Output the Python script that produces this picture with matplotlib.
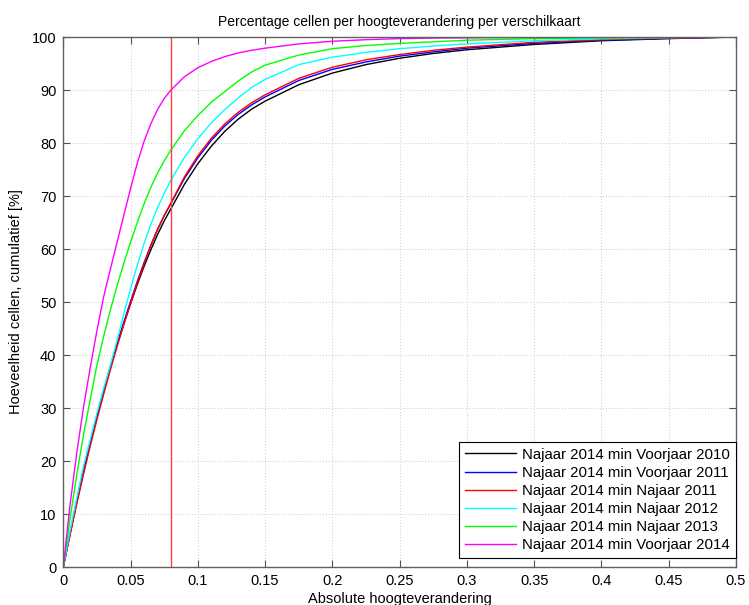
import matplotlib
matplotlib.use("Agg")
import matplotlib.pyplot as plt

plt.rcParams['font.family'] = ['Liberation Sans', 'DejaVu Sans']

x = [0, 0.005, 0.01, 0.015, 0.02, 0.025, 0.03, 0.035, 0.04, 0.045, 0.05, 0.055,
     0.06, 0.065, 0.07, 0.075, 0.08, 0.09, 0.1, 0.11, 0.12, 0.13, 0.14, 0.15,
     0.175, 0.2, 0.225, 0.25, 0.275, 0.3, 0.35, 0.4, 0.45, 0.5]

black_v2010 = [0, 6.2, 12.2, 17.9, 23.2, 28.3, 33.1, 37.6, 41.9, 45.9, 49.7, 53.3,
               56.7, 59.8, 62.7, 65.3, 67.6, 72.2, 76.1, 79.4, 82.2, 84.5, 86.4, 87.9,
               91.0, 93.2, 94.8, 96.0, 96.9, 97.6, 98.6, 99.3, 99.7, 100]
blue_v2011 = [0, 6.4, 12.4, 18.1, 23.4, 28.5, 33.3, 37.8, 42.1, 46.2, 50.1, 53.9,
              57.4, 60.7, 63.7, 66.3, 68.6, 73.3, 77.2, 80.5, 83.2, 85.4, 87.2, 88.7,
              91.8, 93.9, 95.3, 96.4, 97.2, 97.9, 98.8, 99.4, 99.75, 100]
red_n2011 = [0, 6.0, 11.9, 17.5, 22.8, 27.8, 32.6, 37.2, 41.6, 45.8, 49.7, 53.6,
             57.2, 60.6, 63.6, 66.3, 68.7, 73.6, 77.6, 80.9, 83.6, 85.8, 87.6, 89.1,
             92.2, 94.3, 95.7, 96.7, 97.5, 98.1, 99.0, 99.5, 99.8, 100]
cyan_n2012 = [0, 6.8, 13.0, 19.0, 24.0, 29.0, 33.7, 38.1, 42.8, 47.8, 52.5, 57.0,
              61.0, 64.6, 67.8, 70.5, 73.0, 77.3, 80.8, 83.8, 86.3, 88.5, 90.5, 92.0,
              94.8, 96.2, 97.1, 97.8, 98.3, 98.7, 99.3, 99.65, 99.9, 100]
green_n2013 = [0, 9.1, 17.4, 24.9, 31.6, 38.1, 43.5, 48.5, 53.1, 57.3, 61.3, 65.0,
               68.5, 71.6, 74.3, 76.6, 78.7, 82.3, 85.2, 87.7, 89.7, 91.7, 93.4, 94.7,
               96.6, 97.8, 98.4, 98.8, 99.1, 99.4, 99.7, 99.85, 99.95, 100]
magenta_v2014 = [0, 11.7, 21.5, 30.1, 37.6, 44.6, 51.0, 56.2, 61.3, 66.4, 71.4, 76.2,
                 80.3, 83.6, 86.3, 88.4, 90.0, 92.5, 94.2, 95.4, 96.3, 97.0, 97.5, 97.9,
                 98.7, 99.2, 99.5, 99.7, 99.8, 99.85, 99.93, 99.97, 99.99, 100]

series = [black_v2010, blue_v2011, red_n2011, cyan_n2012, green_n2013, magenta_v2014]
labels = ["Najaar 2014 min Voorjaar 2010", "Najaar 2014 min Voorjaar 2011",
          "Najaar 2014 min Najaar 2011", "Najaar 2014 min Najaar 2012",
          "Najaar 2014 min Najaar 2013", "Najaar 2014 min Voorjaar 2014"]
colors = ['#000000', '#0000ff', '#ff0000', '#00ffff', '#00ff00', '#ff00ff']
threshold = 0.08

xticks = [0, 0.05, 0.1, 0.15, 0.2, 0.25, 0.3, 0.35, 0.4, 0.45, 0.5]
xticklabels = ['0', '0.05', '0.1', '0.15', '0.2', '0.25', '0.3', '0.35', '0.4', '0.45', '0.5']
yticks = [0, 10, 20, 30, 40, 50, 60, 70, 80, 90, 100]

fig = plt.figure(figsize=(7.49, 6.05), dpi=100)
ax = fig.add_axes([0.0845, 0.0628, 0.8982, 0.876])

for y, lab, c in zip(series, labels, colors):
    ax.plot(x, y, color=c, lw=1.0, label=lab)

ax.axvline(threshold, color='#ff4040', lw=1.0)

ax.set_xlim(0, 0.5)
ax.set_ylim(0, 100)
ax.set_xticks(xticks)
ax.set_xticklabels(xticklabels)
ax.set_yticks(yticks)
ax.grid(True, linestyle=(0, (1, 2.5)), color='#b8b8b8', lw=0.6)
ax.tick_params(direction='in', top=True, right=True, length=5, width=0.8,
               color='#505050', labelsize=10.5, pad=5)
for s in ax.spines.values():
    s.set_color('#606060')
    s.set_linewidth(1.0)

ax.set_title("Percentage cellen per hoogteverandering per verschilkaart", fontsize=10, pad=8)
ax.set_xlabel("Absolute hoogteverandering", fontsize=10.5, labelpad=3)
ax.set_ylabel("Hoeveelheid cellen, cumulatief [%]", fontsize=10.5, labelpad=6)

leg = ax.legend(loc='lower right', bbox_to_anchor=(1.0, 0.017), borderaxespad=0,
                fancybox=False, edgecolor='#000000', framealpha=1, fontsize=10.8,
                handlelength=3.4, handletextpad=0.4, labelspacing=0.27,
                borderpad=0.4)
leg.get_frame().set_linewidth(0.8)

fig.savefig("out.png", dpi=100)
